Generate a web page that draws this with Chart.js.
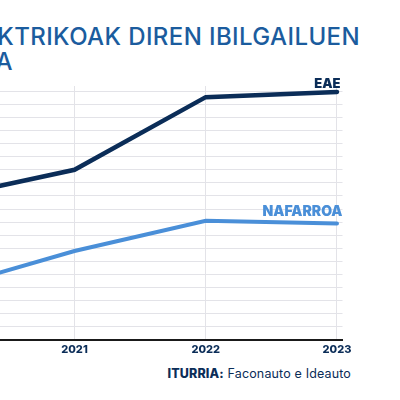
<!DOCTYPE html>
<html>
<head>
<meta charset="utf-8">
<script src="https://cdn.jsdelivr.net/npm/chart.js@4.4.0/dist/chart.umd.min.js"></script>
<style>
  html, body { margin:0; padding:0; width:400px; height:400px; overflow:hidden; background:#fff; }
  #wrap { position:absolute; left:-59.5px; top:46px; width:421.5px; height:314px; }
  .title { position:absolute; right:40px; white-space:nowrap; font-family:Inter, sans-serif; font-weight:500; font-size:24px; line-height:24px; color:#1b5c9e; letter-spacing:0.4px; }
  #t1 { top:25px; }
  #t2 { top:50px; right:387px; }
  #src { position:absolute; right:49px; top:367px; white-space:nowrap; font-family:Inter, sans-serif; font-size:12.5px; line-height:14px; color:#0b2d58; letter-spacing:0.15px; }
  #src b { font-weight:800; }
</style>
</head>
<body>
<div class="title" id="t1">ELEKTRIKOAK DIREN IBILGAILUEN</div>
<div class="title" id="t2">MATRIKULAZIOA</div>
<div id="wrap"><canvas id="c"></canvas></div>
<div id="src"><b>ITURRIA:</b> Faconauto e Ideauto</div>
<script>
const years = [2020, 2021, 2022, 2023];
const eaeValues = [10.85, 13.0, 18.55, 18.95];
const nafarroaValues = [3.9, 6.8, 9.1, 8.9];
const seriesNames = ['EAE', 'NAFARROA'];

const labelPlugin = {
  id: 'endLabels',
  afterDatasetsDraw(chart) {
    const ctx = chart.ctx;
    const offs = [[3.5, -4], [5.5, -7]];
    const sizes = [13, 14];
    chart.data.datasets.forEach((ds, i) => {
      const meta = chart.getDatasetMeta(i);
      const pt = meta.data[meta.data.length - 1];
      ctx.save();
      ctx.font = '900 ' + sizes[i] + 'px Inter, sans-serif';
      ctx.fillStyle = ds.borderColor;
      ctx.textAlign = 'right';
      ctx.textBaseline = 'alphabetic';
      ctx.fillText(ds.label, pt.x + offs[i][0], pt.y + offs[i][1]);
      ctx.restore();
    });
  }
};

new Chart(document.getElementById('c'), {
  type: 'line',
  data: {
    datasets: [
      { label: seriesNames[0], data: years.map((y, i) => ({x: y, y: eaeValues[i]})),
        borderColor: '#0b2d58', borderWidth: 4.5, pointRadius: 0, borderCapStyle: 'round', tension: 0 },
      { label: seriesNames[1], data: years.map((y, i) => ({x: y, y: nafarroaValues[i]})),
        borderColor: '#4a8fd8', borderWidth: 4, pointRadius: 0, borderCapStyle: 'round', tension: 0 }
    ]
  },
  options: {
    responsive: true,
    maintainAspectRatio: false,
    animation: false,
    layout: { padding: { top: 40, left: 0, right: 20, bottom: 0 } },
    plugins: { legend: { display: false }, tooltip: { enabled: false } },
    scales: {
      x: {
        type: 'linear', min: 2020, max: 2023.042,
        ticks: { stepSize: 1, includeBounds: false, padding: 3, color: '#0b2d58',
                 font: { family: 'Inter, sans-serif', weight: '800', size: 11 },
                 callback: v => String(v) },
        grid: { color: '#e3e3e8', lineWidth: 1, drawTicks: false },
        border: { display: true, color: '#1a1a1a', width: 2 },
        afterFit(s) { s.height = 20; s.paddingLeft = 0; s.paddingRight = 0; }
      },
      y: {
        min: 0, max: 19.4,
        ticks: { display: false, stepSize: 1, includeBounds: false },
        grid: { color: '#e3e3e8', lineWidth: 1, drawTicks: false },
        border: { display: false },
        afterFit(s) { s.width = 0; s.paddingTop = 0; s.paddingBottom = 0; }
      }
    }
  },
  plugins: [labelPlugin]
});
</script>
</body>
</html>
